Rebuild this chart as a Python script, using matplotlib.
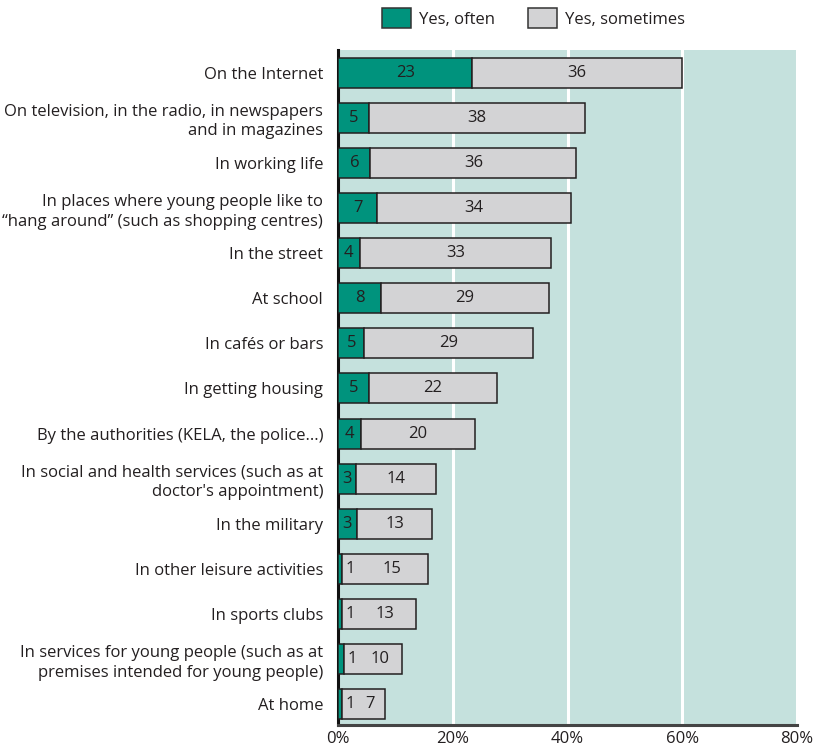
import matplotlib
matplotlib.use("Agg")
import matplotlib.pyplot as plt
from matplotlib.patches import Patch

plt.rcParams['font.family'] = ['Open Sans', 'DejaVu Sans']

categories = [
    "On the Internet",
    "On television, in the radio, in newspapers\nand in magazines",
    "In working life",
    "In places where young people like to\n\u201chang around\u201d (such as shopping centres)",
    "In the street",
    "At school",
    "In caf\u00e9s or bars",
    "In getting housing",
    "By the authorities (KELA, the police...)",
    "In social and health services (such as at\ndoctor's appointment)",
    "In the military",
    "In other leisure activities",
    "In sports clubs",
    "In services for young people (such as at\npremises intended for young people)",
    "At home",
]
often = [23.4, 5.3, 5.6, 6.8, 3.7, 7.5, 4.5, 5.35, 3.95, 3.1, 3.2, 0.7, 0.7, 1.05, 0.7]
sometimes = [36.5, 37.7, 35.9, 33.7, 33.4, 29.2, 29.5, 22.35, 19.95, 13.9, 13.2, 15.0, 12.8, 10.1, 7.4]
often_labels = [23, 5, 6, 7, 4, 8, 5, 5, 4, 3, 3, 1, 1, 1, 1]
sometimes_labels = [36, 38, 36, 34, 33, 29, 29, 22, 20, 14, 13, 15, 13, 10, 7]
xticks = [0, 20, 40, 60, 80]
xticklabels = ["0%", "20%", "40%", "60%", "80%"]
series_names = ["Yes, often", "Yes, sometimes"]

GREEN = "#00937d"
GRAY = "#d3d3d5"
BG = "#c5e1dd"
EDGE = "#231f20"
TXT = "#231f20"
FS = 12

fig = plt.figure(figsize=(8.13, 7.49), dpi=100)
ax = fig.add_axes([0.4161, 1 - 725 / 749, 0.9803 - 0.4161, (725 - 50) / 749])
ax.set_facecolor(BG)

y = list(range(len(categories)))
h = 0.665
ax.barh(y, often, height=h, color=GREEN, edgecolor=EDGE, linewidth=1.1, zorder=3)
ax.barh(y, sometimes, left=often, height=h, color=GRAY, edgecolor=EDGE, linewidth=1.1, zorder=3)

for i in y:
    o, s = often[i], sometimes[i]
    if o < 2:
        ax.text(o + 0.5, i, str(often_labels[i]), ha='left', va='center', fontsize=FS, color=TXT, zorder=4)
        start = o + 2.2
        ax.text((start + o + s) / 2, i, str(sometimes_labels[i]), ha='center', va='center', fontsize=FS, color=TXT, zorder=4)
    else:
        ax.text(o / 2, i, str(often_labels[i]), ha='center', va='center', fontsize=FS, color=TXT, zorder=4)
        ax.text(o + s / 2, i, str(sometimes_labels[i]), ha='center', va='center', fontsize=FS, color=TXT, zorder=4)

ax.set_xlim(0, 80)
ax.set_ylim(14.46, -0.5)
ax.set_xticks(xticks)
ax.set_xticklabels(xticklabels, fontsize=FS, color=TXT)
ax.set_yticks(y)
ax.set_yticklabels(categories, fontsize=FS, color=TXT, linespacing=1.3)
ax.tick_params(axis='both', length=0)
ax.tick_params(axis='y', pad=11)
ax.tick_params(axis='x', pad=4)
ax.xaxis.grid(True, color='white', linewidth=2.2, zorder=1)
ax.set_axisbelow(True)
for side in ['top', 'right']:
    ax.spines[side].set_visible(False)
ax.spines['left'].set_linewidth(2.2)
ax.spines['left'].set_color('#111111')
ax.spines['bottom'].set_linewidth(2.2)
ax.spines['bottom'].set_color('#444444')

handles = [Patch(facecolor=GREEN, edgecolor='#333333', linewidth=1.1),
           Patch(facecolor=GRAY, edgecolor='#333333', linewidth=1.1)]
fig.legend(handles, series_names, loc='upper left', bbox_to_anchor=(382 / 813, 1 - 8 / 749),
           ncol=2, frameon=False, fontsize=FS, handlelength=1.75, handleheight=1.5,
           handletextpad=0.45, columnspacing=2.0, borderaxespad=0, borderpad=0,
           labelcolor=TXT)

fig.savefig("out.png", dpi=100)
